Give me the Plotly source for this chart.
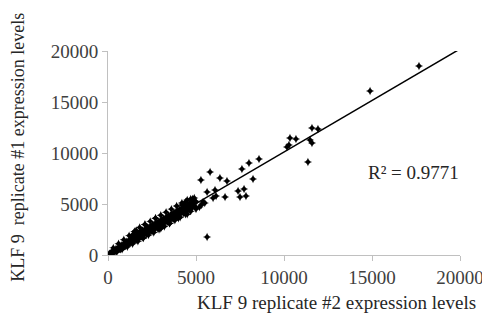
import plotly.graph_objects as go

# Replicate #2 (x) vs replicate #1 (y) expression levels
band_x = [50, 80, 100, 120, 150, 180, 200, 220, 250, 270, 300, 320, 350, 380, 400, 420, 450, 480, 500, 520,
          550, 580, 600, 620, 650, 680, 700, 720, 750, 780, 800, 820, 850, 880, 900, 920, 950, 980, 1000, 1020,
          1050, 1080, 1100, 1120, 1150, 1180, 1200, 1220, 1250, 1280, 1300, 1320, 1350, 1380, 1400, 1420, 1450, 1480, 1500, 1520,
          1550, 1580, 1600, 1620, 1650, 1680, 1700, 1720, 1750, 1780, 1800, 1820, 1850, 1880, 1900, 1920, 1950, 1980, 2000, 2050,
          2100, 2150, 2200, 2250, 2300, 2350, 2400, 2450, 2500, 2550, 2600, 2650, 2700, 2750, 2800, 2850, 2900, 2950, 3000, 3050,
          3100, 3150, 3200, 3250, 3300, 3350, 3400, 3450, 3500, 3550, 3600, 3650, 3700, 3750, 3800, 3850, 3900, 3950, 4000, 4050,
          4100, 4150, 4200, 4250, 4300, 4350, 4400, 4450, 4500, 4550, 4600, 4650, 4700, 4750, 4800, 4850, 4900, 5000,
          1600, 2100, 2700, 1400, 4400, 4700, 4900, 4200, 3000, 2000, 3500, 4000, 4500, 5000, 5300, 5500,
          2200, 2500, 2800, 3200, 3600, 3900, 4200, 1200, 800, 500, 1300, 1700, 2300, 2600, 3100, 3400, 3800, 4600,
          300, 600, 900, 1200, 1500, 1800, 2100, 2400, 2700, 3000, 3300, 3600, 3900, 4200, 4500, 4800,
          500, 800, 1100, 1400, 1700, 2000, 2300, 2600, 2900, 3200, 3500, 3800, 4100, 4400, 4700, 5000, 5200,
          450, 750, 1050, 1350, 1650, 1950, 2250, 2550, 2850, 3150, 3450, 3750, 4050, 4350, 4650, 4950,
          700, 1000, 1300, 1600, 1900, 2200, 2500, 2800, 3100, 3400, 3700, 4000, 4300, 4600]
band_y = [60, 120, 90, 160, 130, 220, 170, 260, 230, 310, 280, 360, 300, 420, 380, 450, 400, 540, 470, 580,
          520, 640, 560, 700, 610, 760, 650, 800, 720, 880, 760, 900, 800, 1000, 850, 1050, 900, 1120, 950, 1200,
          1000, 1150, 1050, 1300, 1100, 1350, 1150, 1400, 1200, 1450, 1250, 1500, 1300, 1550, 1350, 1650, 1400, 1700, 1450, 1750,
          1500, 1800, 1550, 1900, 1600, 1950, 1650, 2000, 1700, 2100, 1750, 2200, 1800, 2250, 1850, 2300, 1900, 2350, 1950, 2400,
          2050, 2500, 2150, 2600, 2250, 2700, 2350, 2800, 2450, 2900, 2550, 3000, 2650, 3100, 2750, 3200, 2850, 3300, 2950, 3400,
          3050, 3500, 3150, 3600, 3250, 3700, 3350, 3800, 3450, 3900, 3550, 4000, 3650, 4100, 3750, 4200, 3850, 4300, 3950, 4400,
          4050, 4500, 4150, 4550, 4250, 4600, 4350, 4700, 4450, 4800, 4500, 4900, 4600, 5000, 4700, 5100, 4800, 5200,
          2400, 3000, 3600, 2000, 5200, 5500, 5600, 4900, 2600, 1700, 3100, 3600, 4000, 4600, 4900, 5100,
          2300, 2700, 3000, 3400, 3800, 4100, 4400, 1250, 850, 520, 1500, 2050, 2550, 2850, 3350, 3700, 4050, 5000,
          700, 1100, 1500, 1900, 2300, 2700, 3000, 3300, 3600, 3900, 4200, 4500, 4800, 5100, 5400, 5500,
          300, 550, 800, 1100, 1350, 1650, 1950, 2200, 2500, 2800, 3100, 3400, 3700, 4000, 4300, 4500, 4700,
          600, 950, 1300, 1650, 2000, 2400, 2700, 3000, 3250, 3550, 3850, 4150, 4450, 4750, 5050, 5300,
          550, 900, 1200, 1500, 1800, 2000, 2300, 2600, 2900, 3200, 3500, 3800, 4100, 4400]

outlier_x = [17670, 14890, 11590, 11930, 10340, 10680, 10170, 11480, 11590, 11360, 10280,
             8580, 8010, 7610, 8240, 5800, 5280, 6360, 6760, 7390, 7730, 7500, 7840,
             5630, 6080, 6140, 5970, 6650, 5630, 5400]
outlier_y = [18530, 16080, 12450, 12350, 11470, 11370, 10590, 11270, 10980, 9120, 10780,
             9410, 9020, 8430, 7450, 8140, 7350, 7550, 7250, 6270, 6470, 5690, 5780,
             6180, 6370, 5780, 5590, 5690, 1760, 5200]

trend_slope = 1.01
trend_intercept = 0.0
trend_x = [0, 19900]
r2_label = "R² = 0.9771"

x_title = "KLF 9 replicate #2 expression levels"
y_title = "KLF 9  replicate #1 expression levels"
tick_vals = [0, 5000, 10000, 15000, 20000]
tick_text = ["0", "5000", "10000", "15000", "20000"]

all_x = band_x + outlier_x
all_y = band_y + outlier_y

font_family = "Liberation Serif"

fig = go.Figure()
fig.add_trace(go.Scatter(
    x=all_x, y=all_y, mode="markers",
    marker=dict(symbol="star-diamond", size=6, color="black", line=dict(width=0)),
    showlegend=False, hoverinfo="skip"))
fig.add_trace(go.Scatter(
    x=trend_x, y=[trend_slope * v + trend_intercept for v in trend_x], mode="lines",
    line=dict(color="black", width=1.5), showlegend=False, hoverinfo="skip"))

axis_common = dict(
    range=[0, 20000], tickvals=tick_vals, ticktext=tick_text, showgrid=False, zeroline=False,
    showline=True, linecolor="#c0c0c0", linewidth=1, ticks="outside", ticklen=5, tickcolor="#c0c0c0",
    tickfont=dict(family=font_family, size=19, color="#404040"), fixedrange=True, automargin=False)

fig.update_layout(
    width=482, height=319,
    margin=dict(l=100, r=30, t=43, b=72, autoexpand=False),
    paper_bgcolor="white", plot_bgcolor="white",
    xaxis=dict(**axis_common),
    yaxis=dict(**axis_common),
    annotations=[
        dict(text=x_title, xref="paper", yref="paper", x=0.65, y=-0.235, xanchor="center", yanchor="middle",
             showarrow=False, font=dict(family=font_family, size=19, color="#262626")),
        dict(text=y_title, xref="paper", yref="paper", x=-0.256, y=0.53, xanchor="center", yanchor="middle",
             textangle=-90, showarrow=False, font=dict(family=font_family, size=18, color="#262626")),
        dict(text=r2_label, xref="x", yref="y", x=17330, y=8040, xanchor="center", yanchor="middle",
             showarrow=False, font=dict(family=font_family, size=19, color="#262626")),
    ],
)

fig.write_html("out.html")
